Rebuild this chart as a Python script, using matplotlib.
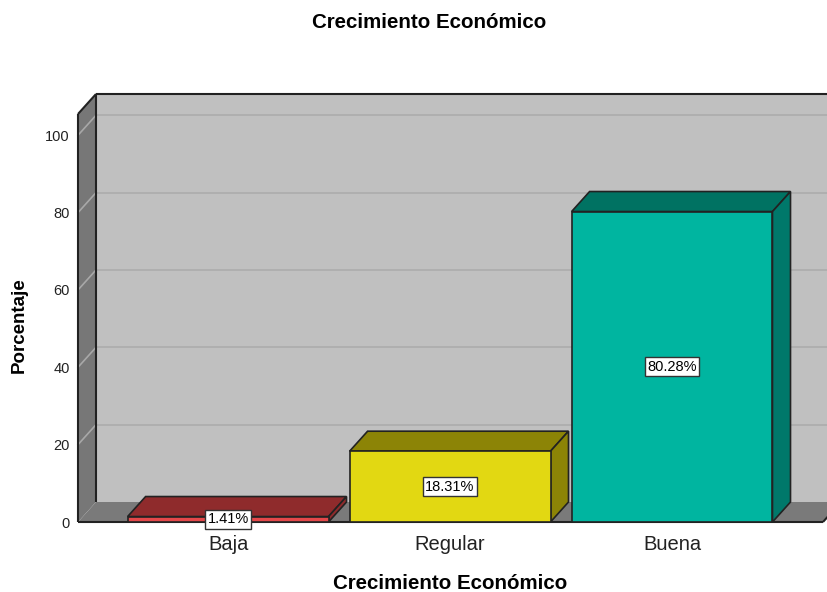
import matplotlib
matplotlib.use('Agg')
import matplotlib.pyplot as plt
from matplotlib.patches import Polygon
from matplotlib.lines import Line2D
import numpy as np

# ---- data ----
categories = ['Baja', 'Regular', 'Buena']
percentages = [1.41, 18.31, 80.28]
value_labels = ['1.41%', '18.31%', '80.28%']
yticks = [0, 20, 40, 60, 80, 100]
title = 'Crecimiento Económico'
xlabel = 'Crecimiento Económico'
ylabel = 'Porcentaje'

# ---- style ----
front_colors = ['#E4484A', '#E2D812', '#00B5A0']
top_colors = ['#8F2B2C', '#8C8406', '#007262']
side_colors = ['#8F2B2C', '#8C8406', '#00786A']
plt.rcParams['font.family'] = ['Liberation Sans', 'DejaVu Sans']

W, H = 828, 592
fig = plt.figure(figsize=(W / 100, H / 100), dpi=100)
ax = fig.add_axes([78 / W, (H - 522) / H, 745 / W, 408 / H])
xmin, xmax = -0.676, 2.68
ymax = 105.5
ax.set_xlim(xmin, xmax)
ax.set_ylim(0, ymax)
ax.set_facecolor('none')
for s in ax.spines.values():
    s.set_visible(False)

# depth offset (pixels -> data units)
p0 = ax.transData.transform((0, 0))
q = ax.transData.inverted().transform(p0 + np.array([18, 20]))
ddx, ddy = q[0], q[1]

edge = '#222222'

# back wall
ax.add_patch(Polygon([(xmin + ddx, ddy), (xmax + ddx, ddy), (xmax + ddx, ymax + ddy),
                      (xmin + ddx, ymax + ddy)], closed=True, fc='#C0C0C0', ec='none',
                     clip_on=False, zorder=0))
for t in yticks[1:]:
    ax.add_line(Line2D([xmin + ddx, xmax + ddx], [t + ddy, t + ddy], color='#ACACAC',
                       lw=1.2, clip_on=False, zorder=0.5))
# left wall
ax.add_patch(Polygon([(xmin, 0), (xmin, ymax), (xmin + ddx, ymax + ddy), (xmin + ddx, ddy)],
                     closed=True, fc='#777777', ec='none', clip_on=False, zorder=1))
for t in yticks[1:]:
    ax.add_line(Line2D([xmin, xmin + ddx], [t, t + ddy], color='#A8A8A8', lw=1.2,
                       clip_on=False, zorder=1.2))
# floor
ax.add_patch(Polygon([(xmin, 0), (xmax, 0), (xmax + ddx, ddy), (xmin + ddx, ddy)],
                     closed=True, fc='#7A7A7A', ec='none', clip_on=False, zorder=1))
# frame edges
frame_lines = [
    ([xmin, xmin], [0, ymax]),
    ([xmin, xmin + ddx], [ymax, ymax + ddy]),
    ([xmin + ddx, xmin + ddx], [ddy, ymax + ddy]),
    ([xmin + ddx, xmax + ddx], [ymax + ddy, ymax + ddy]),
    ([xmin, xmax], [0, 0]),
    ([xmax, xmax + ddx], [0, ddy]),
]
for xs, ys in frame_lines:
    ax.add_line(Line2D(xs, ys, color=edge, lw=1.5, clip_on=False, zorder=1.5,
                       solid_capstyle='butt'))

# bars
bw = 0.905
pos = np.arange(len(categories))
ax.bar(pos, percentages, width=bw, color=front_colors, edgecolor=edge, linewidth=1.2,
       zorder=3, clip_on=False)
for i, v in enumerate(percentages):
    x0 = pos[i] - bw / 2
    top = [(x0, v), (x0 + bw, v), (x0 + bw + ddx, v + ddy), (x0 + ddx, v + ddy)]
    side = [(x0 + bw, 0), (x0 + bw + ddx, ddy), (x0 + bw + ddx, v + ddy), (x0 + bw, v)]
    ax.add_patch(Polygon(top, closed=True, fc=top_colors[i], ec=edge, lw=1.2,
                         clip_on=False, zorder=2.5))
    ax.add_patch(Polygon(side, closed=True, fc=side_colors[i], ec=edge, lw=1.2,
                         clip_on=False, zorder=2.5))
    ax.text(pos[i], v / 2, value_labels[i], ha='center', va='center', fontsize=10.5,
            zorder=5, bbox=dict(boxstyle='square,pad=0.18', fc='white', ec='#333333', lw=1))

# ticks
ax.set_yticks(yticks)
ax.set_yticklabels([str(t) for t in yticks])
ax.tick_params(axis='y', length=0, pad=6, labelsize=10.5, labelcolor='#222222')
ax.set_xticks(pos)
ax.set_xticklabels(categories)
ax.tick_params(axis='x', length=0, pad=9, labelsize=14.5, labelcolor='#222222')

ax.set_xlabel(xlabel, fontsize=14.8, fontweight='bold', labelpad=15)
ax.set_ylabel(ylabel, fontsize=13.5, fontweight='bold')
ax.yaxis.set_label_coords(-(78 - 28) / 745, (522 - 325) / 408)
fig.text(429.5 / W, 1 - 22 / H, title, ha='center', va='center', fontsize=14.8,
         fontweight='bold')

fig.savefig('out.png', dpi=100)
